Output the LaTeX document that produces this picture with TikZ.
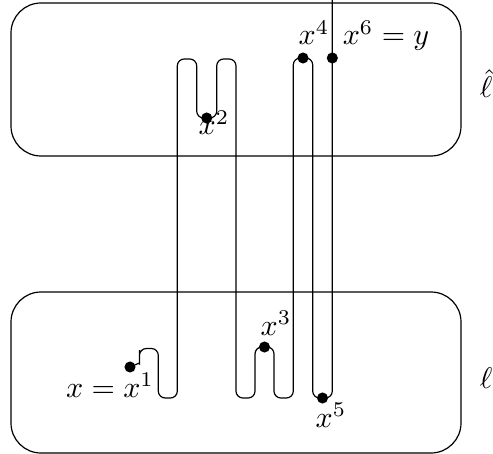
\documentclass[tikz,border=0pt]{standalone}
\usepackage{amsmath,amssymb}
\usetikzlibrary{positioning}
\tikzset{
  region/.style={draw, rounded corners=10pt},
  strand/.style={draw, rounded corners=2.3pt},
  dot/.style={circle, fill=black, inner sep=0pt, minimum size=3.7pt},
  lab/.style={anchor=base, inner sep=0pt}
}

\begin{document}
\begin{tikzpicture}[x=0.3333pt, y=-0.3333pt]
    \useasboundingbox (0,0) rectangle (493,454);

    % the two regions
    \draw[region] (11,3) rectangle (461,156);
    \draw[region] (11,292) rectangle (461,453);
    \node (lhat) [lab] at (486,98) {$\hat{\ell}$};
    \node (ell) [lab] at (486,388) {$\ell$};

    % points on the path
    \node (x1) [dot] at (130,367) {};
    \node (x2) [dot] at (206.7,118) {};
    \node (x3) [dot] at (264.5,347) {};
    \node (x4) [dot] at (303,58) {};
    \node (x5) [dot] at (322.5,398) {};
    \node (x6) [dot] at (332.3,58) {};
    \coordinate (top) at (332.3,0);

    % the path itself
    \draw[strand] (x1.center) .. controls (136,365) and (139.5,362) .. (139.5,357)
      -- (139.5,348.5) -- (158.3,348.5) -- (158.3,398) -- (177.3,398)
      -- (177.3,59) -- (196.7,59) -- (196.7,118) -- (216.7,118) -- (216.7,59)
      -- (236,59) -- (236,398) -- (255,398) -- (255,347) -- (274,347)
      -- (274,398) -- (293.3,398) -- (293.3,58) -- (312.7,58) -- (312.7,398)
      -- (332.3,398) -- (top);

    % labels
    \node [lab] at (110,397) {$x=x^1$};
    \node [lab] at (214,135) {$x^2$};
    \node [lab] at (276,335) {$x^3$};
    \node [lab] at (314,45) {$x^4$};
    \node [lab] at (331,427) {$x^5$};
    \node [lab] at (386,45) {$x^6=y$};
\end{tikzpicture}
\end{document}
